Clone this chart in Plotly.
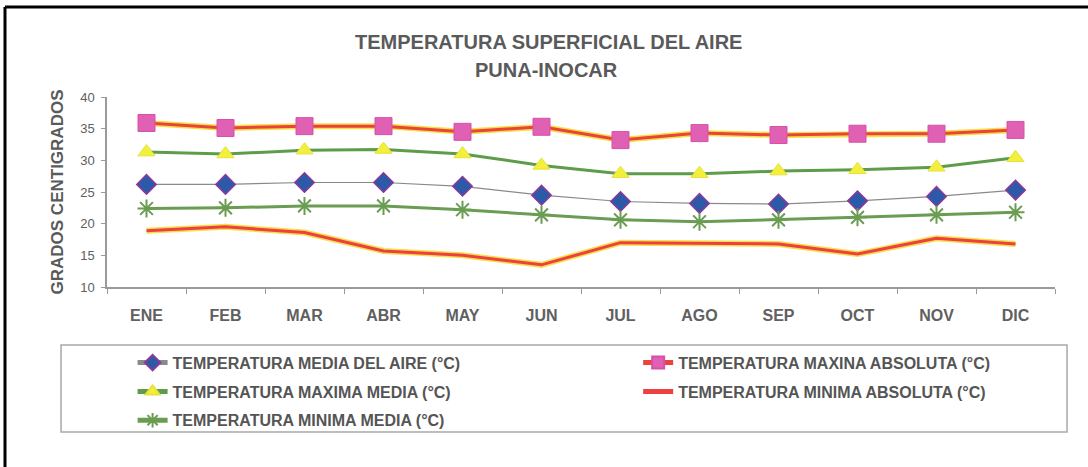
import plotly.graph_objects as go

# Datos mensuales Puna-Inocar
meses = ["ENE", "FEB", "MAR", "ABR", "MAY", "JUN", "JUL", "AGO", "SEP", "OCT", "NOV", "DIC"]
media_aire = [26.2, 26.2, 26.5, 26.5, 25.9, 24.5, 23.5, 23.2, 23.1, 23.6, 24.3, 25.3]
max_abs = [35.9, 35.1, 35.4, 35.4, 34.5, 35.3, 33.2, 34.3, 34.0, 34.2, 34.2, 34.8]
max_media = [31.3, 31.0, 31.6, 31.7, 31.0, 29.2, 27.9, 27.9, 28.3, 28.5, 28.9, 30.4]
min_abs = [18.9, 19.5, 18.6, 15.7, 15.0, 13.5, 17.0, 16.9, 16.8, 15.2, 17.7, 16.8]
min_media = [22.4, 22.5, 22.8, 22.8, 22.2, 21.4, 20.6, 20.3, 20.6, 21.0, 21.4, 21.8]

FONT = "Liberation Sans"
GRIS = "#555555"

fig = go.Figure()

# halo amarillo bajo las lineas rojas (como en el escaneo)
fig.add_trace(go.Scatter(x=meses, y=max_abs, mode="lines", showlegend=False, hoverinfo="skip",
                         line=dict(color="#f3df4a", width=6)))
fig.add_trace(go.Scatter(x=meses, y=min_abs, mode="lines", showlegend=False, hoverinfo="skip",
                         line=dict(color="#f3df4a", width=6)))

fig.add_trace(go.Scatter(x=meses, y=media_aire, mode="lines+markers",
                         name="TEMPERATURA MEDIA DEL AIRE (°C)", legend="legend", legendgroup="a",
                         line=dict(color="#8a8a8a", width=1.2),
                         marker=dict(symbol="diamond", size=15, color="#2a5aa8",
                                     line=dict(color="#8a3a9a", width=1.5))))
fig.add_trace(go.Scatter(x=meses, y=max_media, mode="lines+markers",
                         name="TEMPERATURA MAXIMA MEDIA (°C)", legend="legend", legendgroup="b",
                         line=dict(color="#5e9c4a", width=3),
                         marker=dict(symbol="triangle-up", size=15, color="#f2f03a",
                                     line=dict(color="#e8e040", width=1))))
fig.add_trace(go.Scatter(x=meses, y=min_media, mode="lines+markers",
                         name="TEMPERATURA MINIMA MEDIA (°C)", legend="legend", legendgroup="c",
                         line=dict(color="#6a9c52", width=3),
                         marker=dict(symbol="asterisk-open", size=15,
                                     line=dict(color="#c06ab8", width=2))))
fig.add_trace(go.Scatter(x=meses, y=max_abs, mode="lines+markers",
                         name="TEMPERATURA MAXINA ABSOLUTA (°C)", legend="legend2", legendgroup="d",
                         line=dict(color="#ea4438", width=3),
                         marker=dict(symbol="square", size=17, color="#e060b4",
                                     line=dict(color="#d850a8", width=1))))
fig.add_trace(go.Scatter(x=meses, y=min_abs, mode="lines",
                         name="TEMPERATURA MINIMA ABSOLUTA (°C)", legend="legend2", legendgroup="e",
                         line=dict(color="#ee4040", width=3)))

# recuadro de la leyenda y marco negro de la celda
fig.add_shape(type="rect", xref="paper", yref="paper", x0=-0.0485, x1=1.0127, y0=-0.763, y1=-0.305,
              line=dict(color="#a8a8a8", width=1.5), fillcolor="rgba(0,0,0,0)")
fig.add_shape(type="line", xref="paper", yref="paper", x0=-0.1076, x1=1.04, y0=1.4737, y1=1.4737,
              line=dict(color="black", width=3))
fig.add_shape(type="line", xref="paper", yref="paper", x0=-0.1076, x1=-0.1076, y0=1.4737, y1=-0.96,
              line=dict(color="black", width=3))

# titulo en dos lineas
fig.add_annotation(text="<b>TEMPERATURA SUPERFICIAL DEL AIRE</b>", xref="paper", yref="paper",
                   x=0.466, y=(287 - 42) / 190, xanchor="center", yanchor="middle", showarrow=False,
                   font=dict(family=FONT, size=20, color="#5a5a5a"))
fig.add_annotation(text="<b>PUNA-INOCAR</b>", xref="paper", yref="paper",
                   x=0.464, y=(287 - 70) / 190, xanchor="center", yanchor="middle", showarrow=False,
                   font=dict(family=FONT, size=20, color="#5a5a5a"))

fig.update_layout(
    width=1088, height=467,
    margin=dict(l=107, r=33, t=97, b=180),
    paper_bgcolor="white", plot_bgcolor="white",
    font=dict(family=FONT, color=GRIS),
    legend=dict(x=0.027, y=-0.309, xanchor="left", yanchor="top", orientation="v",
                bgcolor="rgba(0,0,0,0)", tracegroupgap=5, itemsizing="constant",
                font=dict(family=FONT, size=16, color=GRIS, weight="bold"), itemwidth=30),
    legend2=dict(x=0.5603, y=-0.309, xanchor="left", yanchor="top", orientation="v",
                 bgcolor="rgba(0,0,0,0)", tracegroupgap=5, itemsizing="constant",
                 font=dict(family=FONT, size=16, color=GRIS, weight="bold"), itemwidth=30),
)

fig.update_xaxes(type="category", range=[-0.5, 11.5], showgrid=False,
                 showline=True, linecolor="#9a9a9a", linewidth=1.5,
                 ticks="outside", ticklen=5, tickcolor="#9a9a9a", tickson="boundaries",
                 ticklabelstandoff=13,
                 tickfont=dict(family=FONT, size=16, color="#606060", weight="bold"))
fig.update_yaxes(range=[10, 40], dtick=5, showgrid=False, zeroline=False,
                 showline=True, linecolor="#9a9a9a", linewidth=1.5,
                 ticks="outside", ticklen=4, tickcolor="#9a9a9a", ticklabelstandoff=4,
                 tickfont=dict(family=FONT, size=13, color="#606060"),
                 title=dict(text="<b>GRADOS CENTIGRADOS</b>", standoff=12,
                            font=dict(family=FONT, size=17, color="#5a5a5a")))

# sin margen del body, para que la figura ocupe la ventana exacta
fig.write_html("out.html", config={"displayModeBar": False},
               post_script="document.body.style.margin='0';")
